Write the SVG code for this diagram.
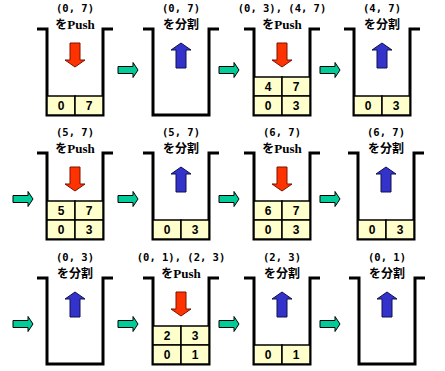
<svg xmlns="http://www.w3.org/2000/svg" xmlns:xlink="http://www.w3.org/1999/xlink" width="445" height="371" viewBox="0 0 445 371">
<style>
.box{fill:none;stroke:#000;stroke-width:3;stroke-linejoin:miter}
.cell{fill:#FFFFCC;stroke:#000;stroke-width:1.5}
.num{font-family:"Liberation Sans",Arial,sans-serif;font-weight:bold;font-size:12px;text-anchor:middle;fill:#000}
.l1{font-family:"DejaVu Sans Mono","Liberation Mono",monospace;font-weight:bold;font-size:10.5px;text-anchor:middle;fill:#000}
.l2{font-family:"Noto Sans CJK JP",sans-serif;font-weight:bold;font-size:12px;text-anchor:middle;fill:#000}
.en{font-family:"Liberation Serif","Times New Roman",serif;font-weight:bold;font-size:13px}
.red{fill:#FF3300;stroke:#7A1000;stroke-width:1}
.blue{fill:#3333CC;stroke:#10104A;stroke-width:1}
.teal{fill:#00CC99;stroke:#000;stroke-width:1}
</style>
<defs>
<path id="down" class="red" d="M-5,14 H5 V31 H10 L0,38 L-10,31 H-5 Z"/>
<path id="up" class="blue" d="M0,14 L10,21 H5 V39 H-5 V21 H-10 Z"/>
<path id="next" class="teal" d="M0,-3.5 H15 V-7.5 L20,0 L15,7.5 V3.5 H0 Z"/>
</defs>

<g id="connectors">
<use xlink:href="#next" x="118" y="70"/>
<use xlink:href="#next" x="219" y="70"/>
<use xlink:href="#next" x="320" y="70"/>
<use xlink:href="#next" x="13" y="199"/>
<use xlink:href="#next" x="118" y="199"/>
<use xlink:href="#next" x="219" y="199"/>
<use xlink:href="#next" x="320" y="199"/>
<use xlink:href="#next" x="13" y="324"/>
<use xlink:href="#next" x="118" y="324"/>
<use xlink:href="#next" x="219" y="324"/>
<use xlink:href="#next" x="320" y="324"/>
</g>

<!-- Row 1 -->
<g id="s1" transform="translate(46,29)">
<text class="l1" x="29" y="-17">(0, 7)</text>
<text class="l2" x="29" y="0">を<tspan class="en">Push</tspan></text>
<path class="box" d="M-9,0 H1 V86 H57 V0 H67"/>
<use xlink:href="#down" x="29" y="0"/>
<rect class="cell" x="1" y="67" width="28" height="19"/><rect class="cell" x="29" y="67" width="28" height="19"/>
<text class="num" x="15" y="81">0</text><text class="num" x="43" y="81">7</text>
</g>
<g id="s2" transform="translate(152,29)">
<text class="l1" x="29" y="-17">(0, 7)</text>
<text class="l2" x="29" y="0">を分割</text>
<path class="box" d="M-9,0 H1 V86 H57 V0 H67"/>
<use xlink:href="#up" x="29" y="0"/>
</g>
<g id="s3" transform="translate(253,29)">
<text class="l1" x="29" y="-17">(0, 3), (4, 7)</text>
<text class="l2" x="29" y="0">を<tspan class="en">Push</tspan></text>
<path class="box" d="M-9,0 H1 V86 H57 V0 H67"/>
<use xlink:href="#down" x="29" y="0"/>
<rect class="cell" x="1" y="48" width="28" height="19"/><rect class="cell" x="29" y="48" width="28" height="19"/>
<rect class="cell" x="1" y="67" width="28" height="19"/><rect class="cell" x="29" y="67" width="28" height="19"/>
<text class="num" x="15" y="62">4</text><text class="num" x="43" y="62">7</text>
<text class="num" x="15" y="81">0</text><text class="num" x="43" y="81">3</text>
</g>
<g id="s4" transform="translate(353,29)">
<text class="l1" x="29" y="-17">(4, 7)</text>
<text class="l2" x="29" y="0">を分割</text>
<path class="box" d="M-9,0 H1 V86 H57 V0 H67"/>
<use xlink:href="#up" x="29" y="0"/>
<rect class="cell" x="1" y="67" width="28" height="19"/><rect class="cell" x="29" y="67" width="28" height="19"/>
<text class="num" x="15" y="81">0</text><text class="num" x="43" y="81">3</text>
</g>

<!-- Row 2 -->
<g id="s5" transform="translate(46,153)">
<text class="l1" x="29" y="-17">(5, 7)</text>
<text class="l2" x="29" y="0">を<tspan class="en">Push</tspan></text>
<path class="box" d="M-9,0 H1 V86 H57 V0 H67"/>
<use xlink:href="#down" x="29" y="0"/>
<rect class="cell" x="1" y="48" width="28" height="19"/><rect class="cell" x="29" y="48" width="28" height="19"/>
<rect class="cell" x="1" y="67" width="28" height="19"/><rect class="cell" x="29" y="67" width="28" height="19"/>
<text class="num" x="15" y="62">5</text><text class="num" x="43" y="62">7</text>
<text class="num" x="15" y="81">0</text><text class="num" x="43" y="81">3</text>
</g>
<g id="s6" transform="translate(152,153)">
<text class="l1" x="29" y="-17">(5, 7)</text>
<text class="l2" x="29" y="0">を分割</text>
<path class="box" d="M-9,0 H1 V86 H57 V0 H67"/>
<use xlink:href="#up" x="29" y="0"/>
<rect class="cell" x="1" y="67" width="28" height="19"/><rect class="cell" x="29" y="67" width="28" height="19"/>
<text class="num" x="15" y="81">0</text><text class="num" x="43" y="81">3</text>
</g>
<g id="s7" transform="translate(253,153)">
<text class="l1" x="29" y="-17">(6, 7)</text>
<text class="l2" x="29" y="0">を<tspan class="en">Push</tspan></text>
<path class="box" d="M-9,0 H1 V86 H57 V0 H67"/>
<use xlink:href="#down" x="29" y="0"/>
<rect class="cell" x="1" y="48" width="28" height="19"/><rect class="cell" x="29" y="48" width="28" height="19"/>
<rect class="cell" x="1" y="67" width="28" height="19"/><rect class="cell" x="29" y="67" width="28" height="19"/>
<text class="num" x="15" y="62">6</text><text class="num" x="43" y="62">7</text>
<text class="num" x="15" y="81">0</text><text class="num" x="43" y="81">3</text>
</g>
<g id="s8" transform="translate(357,153)">
<text class="l1" x="29" y="-17">(6, 7)</text>
<text class="l2" x="29" y="0">を分割</text>
<path class="box" d="M-9,0 H1 V86 H57 V0 H67"/>
<use xlink:href="#up" x="29" y="0"/>
<rect class="cell" x="1" y="67" width="28" height="19"/><rect class="cell" x="29" y="67" width="28" height="19"/>
<text class="num" x="15" y="81">0</text><text class="num" x="43" y="81">3</text>
</g>

<!-- Row 3 -->
<g id="s9" transform="translate(46,278)">
<text class="l1" x="29" y="-17">(0, 3)</text>
<text class="l2" x="29" y="0">を分割</text>
<path class="box" d="M-9,0 H1 V86 H57 V0 H67"/>
<use xlink:href="#up" x="29" y="0"/>
</g>
<g id="s10" transform="translate(152,278)">
<text class="l1" x="29" y="-17">(0, 1), (2, 3)</text>
<text class="l2" x="29" y="0">を<tspan class="en">Push</tspan></text>
<path class="box" d="M-9,0 H1 V86 H57 V0 H67"/>
<use xlink:href="#down" x="29" y="0"/>
<rect class="cell" x="1" y="48" width="28" height="19"/><rect class="cell" x="29" y="48" width="28" height="19"/>
<rect class="cell" x="1" y="67" width="28" height="19"/><rect class="cell" x="29" y="67" width="28" height="19"/>
<text class="num" x="15" y="62">2</text><text class="num" x="43" y="62">3</text>
<text class="num" x="15" y="81">0</text><text class="num" x="43" y="81">1</text>
</g>
<g id="s11" transform="translate(253,278)">
<text class="l1" x="29" y="-17">(2, 3)</text>
<text class="l2" x="29" y="0">を分割</text>
<path class="box" d="M-9,0 H1 V86 H57 V0 H67"/>
<use xlink:href="#up" x="29" y="0"/>
<rect class="cell" x="1" y="67" width="28" height="19"/><rect class="cell" x="29" y="67" width="28" height="19"/>
<text class="num" x="15" y="81">0</text><text class="num" x="43" y="81">1</text>
</g>
<g id="s12" transform="translate(358,278)">
<text class="l1" x="29" y="-17">(0, 1)</text>
<text class="l2" x="29" y="0">を分割</text>
<path class="box" d="M-9,0 H1 V86 H57 V0 H67"/>
<use xlink:href="#up" x="29" y="0"/>
</g>
</svg>
